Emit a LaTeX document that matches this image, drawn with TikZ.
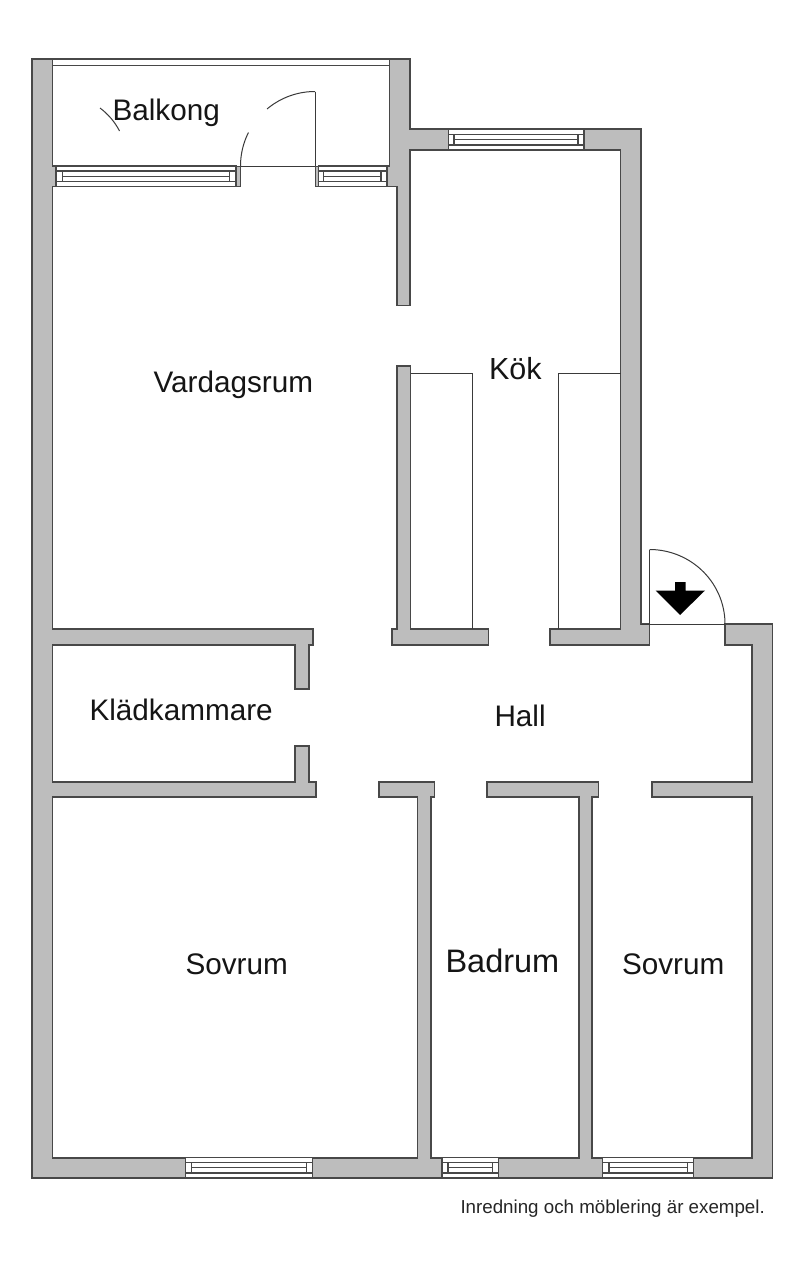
\documentclass[tikz,border=0pt]{standalone}
\usepackage{fontspec}
\setmainfont{Liberation Sans}
\newcommand{\winh}[6]{% x1 x2 xinnerleft xinnerright ytop ybottom
  \fill[white] (#1,#5) rectangle (#2,#6);
  \draw[winline] (#1,#5) rectangle (#2,#6);
  \draw[winline] (#1,#5+5) -- (#2,#5+5);
  \draw[winline] (#1,#6-5) -- (#2,#6-5);
  \draw[winline] (#3,#5+5) -- (#3,#6-5);
  \draw[winline] (#4,#5+5) -- (#4,#6-5);
  \draw[winline] (#3,{(#5+#6)/2}) -- (#4,{(#5+#6)/2});
}
\tikzset{
  wall/.style={fill=wallgray,draw=walledge,line width=1.15pt,line join=miter},
  winline/.style={draw=walledge,line width=1.05pt},
  thinline/.style={draw=thinedge,line width=1pt},
  roomlabel/.style={anchor=base west,inner sep=0pt,outer sep=0pt,font=\fontsize{29.7}{32}\selectfont,text=labelblack},
}
\definecolor{wallgray}{HTML}{BDBDBD}
\definecolor{walledge}{HTML}{484848}
\definecolor{thinedge}{HTML}{3A3A3A}
\definecolor{labelblack}{HTML}{151515}
\begin{document}
\begin{tikzpicture}[x=1pt,y=-1pt]
\useasboundingbox (0,0) rectangle (800,1263);
\fill[white] (0,0) rectangle (800,1263);
% balcony strip
\draw[winline] (52.5,59) -- (389.5,59);
\draw[winline] (52.5,65.5) -- (389.5,65.5);
\draw[thinline] (52.5,166) -- (389.5,166);
% main walls
\draw[wall] (32,59) -- (52.5,59) -- (52.5,166) -- (56,166) -- (56,186.5) -- (52.5,186.5)
 -- (52.5,629) -- (313,629) -- (313,645) -- (309,645) -- (309,689) -- (295,689) -- (295,645) -- (52.5,645)
 -- (52.5,782) -- (295,782) -- (295,746) -- (309,746) -- (309,782) -- (316,782) -- (316,797) -- (52.5,797)
 -- (52.5,1158) -- (417.5,1158) -- (417.5,797) -- (379,797) -- (379,782) -- (434.5,782) -- (434.5,797) -- (431,797)
 -- (431,1158) -- (579,1158) -- (579,797) -- (487,797) -- (487,782) -- (598.7,782) -- (598.7,797) -- (592,797)
 -- (592,1158) -- (752,1158) -- (752,797) -- (652,797) -- (652,782) -- (752,782) -- (752,645) -- (725,645)
 -- (725,624) -- (772.5,624) -- (772.5,1178) -- (32,1178) -- cycle;
\draw[wall] (389.5,59) -- (410,59) -- (410,129) -- (641,129) -- (641,624) -- (649.5,624) -- (649.5,645)
 -- (550,645) -- (550,629) -- (620.5,629) -- (620.5,150) -- (410,150) -- (410,305.5) -- (397,305.5)
 -- (397,186.5) -- (387,186.5) -- (387,166) -- (389.5,166) -- cycle;
\draw[wall] (397,366) -- (410.5,366) -- (410.5,629) -- (488.5,629) -- (488.5,645) -- (392,645) -- (392,629) -- (397,629) -- cycle;
% door jambs
\draw[wall,line width=1pt] (236,166) rectangle (240,186.5);
\draw[wall,line width=1pt] (315,166) rectangle (318.5,186.5);
% windows
\winh{56}{236}{62.5}{229.5}{166}{186.5}
\winh{318.5}{387}{323.5}{381}{166}{186.5}
\winh{448.5}{584}{454}{578}{129.5}{150}
\winh{185.7}{312.7}{191.5}{306.5}{1157.5}{1178}
\winh{442}{498.7}{448}{492.5}{1157.5}{1178}
\winh{602.7}{693.3}{609}{687.5}{1157.5}{1178}
% cabinets
\draw[thinline] (410.5,373) -- (472.5,373) -- (472.5,629);
\draw[thinline] (620.5,373) -- (558.3,373) -- (558.3,629);
% balcony door
\draw[thinline] (315,166) -- (315,92);
\draw[thinline] plot[domain=90:130,samples=24] ({315+74.5*cos(\x)},{166-74.5*sin(\x)});
\draw[thinline] plot[domain=153.3:180,samples=16] ({315+74.5*cos(\x)},{166-74.5*sin(\x)});
\draw[thinline] (100,108) .. controls (108,114) and (115,122) .. (119.5,131);
% entrance door
\draw[thinline] (641,624) -- (725,624);
\draw[thinline] (649.5,624) -- (649.5,549.5);
\draw[thinline] plot[domain=0:90,samples=40] ({649.5+75.5*cos(\x)},{624-74.5*sin(\x)});
\fill[black] (675,582) -- (685.7,582) -- (685.7,590.5) -- (705,590.5) -- (680,615) -- (655.7,590.5) -- (675,590.5) -- cycle;
% labels
\node[roomlabel] (balkong) at (112.5,120.5) {Balkong};
\node[roomlabel] (vardagsrum) at (153.5,392.5) {Vardagsrum};
\node[roomlabel,font=\fontsize{30.5}{32}\selectfont] (kok) at (489,379.5) {Kök};
\node[roomlabel] (hall) at (494.5,726) {Hall};
\node[roomlabel] (kladkammare) at (89.5,720.5) {Klädkammare};
\node[roomlabel] (sovrum1) at (185.5,974) {Sovrum};
\node[roomlabel,font=\fontsize{32.5}{34}\selectfont] (badrum) at (445.5,972.5) {Badrum};
\node[roomlabel] (sovrum2) at (622,974) {Sovrum};
\node[roomlabel,font=\fontsize{18.75}{20}\selectfont,text=black!85] (note) at (460.5,1213.5) {Inredning och möblering är exempel.};
\end{tikzpicture}
\end{document}
